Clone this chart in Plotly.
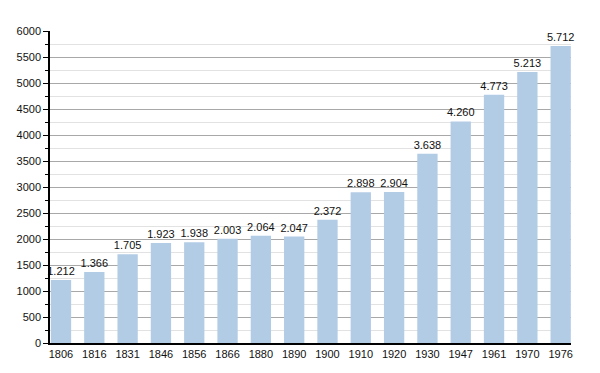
import plotly.graph_objects as go

years = ["1806", "1816", "1831", "1846", "1856", "1866", "1880", "1890",
         "1900", "1910", "1920", "1930", "1947", "1961", "1970", "1976"]
population = [1212, 1366, 1705, 1923, 1938, 2003, 2064, 2047,
              2372, 2898, 2904, 3638, 4260, 4773, 5213, 5712]
labels = [f"{v:,}".replace(",", ".") for v in population]

fig = go.Figure(go.Bar(
    x=years, y=population, text=labels, textposition="outside",
    constraintext="none",
    textfont=dict(family="Liberation Sans, Arial", size=11, color="#111"),
    marker=dict(color="#b3cce6", line=dict(width=0)),
    width=0.61, cliponaxis=False,
))
fig.update_layout(
    width=600, height=373,
    margin=dict(l=50, r=29, t=31, b=30, autoexpand=False),
    paper_bgcolor="white", plot_bgcolor="white",
    font=dict(family="Liberation Sans, Arial", size=11, color="#111"),
    showlegend=False,
    xaxis=dict(type="category", range=[-0.33, 15.31], showline=True,
               linecolor="black", linewidth=1.5, ticks="", showgrid=False,
               tickfont=dict(size=11)),
    yaxis=dict(range=[0, 6000], dtick=500, showline=True, linecolor="black",
               linewidth=1.5, ticks="outside", ticklen=5, tickcolor="black",
               showgrid=True, gridcolor="#a8a8a8", gridwidth=1, zeroline=False,
               tickfont=dict(size=11),
               minor=dict(dtick=250, ticks="outside", ticklen=3,
                          tickcolor="black", showgrid=True,
                          gridcolor="#e2e2e2", gridwidth=1)),
)
fig.write_html("out.html", config={"displayModeBar": False},
               post_script="document.body.style.margin='0px';")
